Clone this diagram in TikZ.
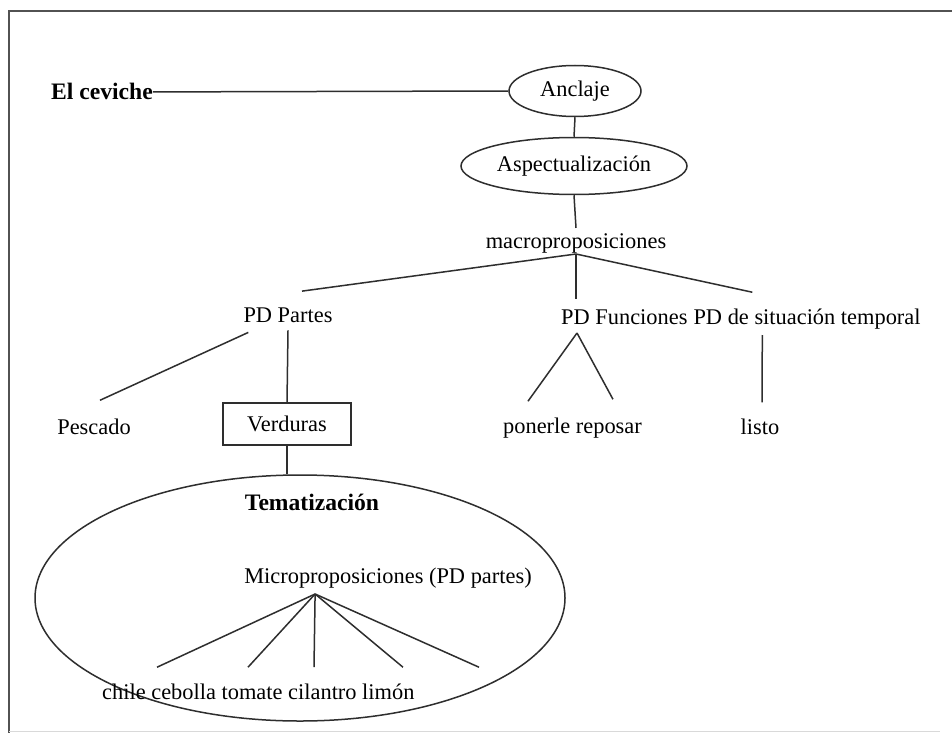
\documentclass[tikz,border=0pt]{standalone}
\usepackage{fontspec}
\setmainfont{Liberation Serif}
\usetikzlibrary{shapes.geometric,calc}
\begin{document}
\begin{tikzpicture}[x=1pt,y=-1pt,
  every node/.style={font=\fontsize{22.4}{26}\selectfont, inner sep=0pt, text=black},
  lbl/.style={anchor=base},
  heading/.style={anchor=base, font=\fontsize{23.6}{28}\selectfont\bfseries},
  link/.style={draw=black!82, line width=1.5pt},
  oval/.style={ellipse, draw=black!82, line width=1.5pt, inner sep=0pt},
  boxed/.style={rectangle, draw=black!82, line width=1.5pt},
  frameline/.style={draw=black!68, line width=2pt}]
\useasboundingbox (0,0) rectangle (952,733);
\fill[white] (0,0) rectangle (952,733);

% page frame
\draw[frameline] (952,11) -- (9,11) -- (9,733);
\draw[black!15, line width=1pt] (9,731) -- (940,731);

% top of the tree
\node[heading, anchor=base west] (cev) at (51,100) {El ceviche};
\node[oval, minimum width=132, minimum height=51] (anc) at (575,91) {Anclaje};
\node[oval, minimum width=226, minimum height=57] (asp) at (574,166) {Aspectualización};
\node[lbl] (macro) at (576,248) {macroproposiciones};
\coordinate (mp) at (576,254);

% second level
\node[lbl] (part) at (288,322) {PD Partes};
\node[lbl, anchor=base west] (fun) at (561,324) {PD Funciones};
\node[lbl, anchor=base west] (sit) at ($(fun.base east)+(5.6,0)$) {PD de situación temporal};

% leaves
\node[lbl] (pesc) at (94,434) {Pescado};
\node[boxed, minimum width=128, minimum height=42] (verd) at (287,424) {Verduras};
\node[lbl] (pon) at (572.5,433) {ponerle reposar};
\node[lbl] (listo) at (760,434) {listo};

% thematisation block
\node[oval, minimum width=530, minimum height=246] (big) at (300,598) {};
\node[heading] (tema) at (312,510) {Tematización};
\node[lbl] (micro) at (388,583) {Microproposiciones (PD partes)};
\node[lbl, anchor=base west] (chl) at (102,699) {chile cebolla tomate cilantro limón};

% connectors
\draw[link] (cev.east) -- (anc.west);
\draw[link] (anc.south) -- (asp.north);
\draw[link] (asp.south) -- ($(macro.north)+(0,-5)$);
\draw[link] (mp) -- ($(part.north)+(14,-16)$);
\draw[link] (mp) -- ($(mp |- fun.north)+(0,-10)$);
\draw[link] (mp) -- ($(sit.north west)+(59,-16)$);

\draw[link] ($(part.south west)+(5,10)$) -- ($(pesc.north)+(6,-18)$);
\draw[link] ($(part.south)+(0,8)$) -- (verd.north);
\draw[link] (verd.south) -- (verd.south |- big.north);

\coordinate (fa) at ($(fun.base west)+(16,9)$);
\draw[link] (fa) -- ($(pon.north west)+(25,-16)$);
\draw[link] (fa) -- ($(pon.north west)+(110,-18)$);
\draw[link] ($(sit.base west)+(69,11)$) -- ($(listo.north)+(2,-16)$);

\coordinate (ma) at ($(micro.base west)+(71,11)$);
\foreach \dx in {55,146,212,301,377}
  \draw[link] (ma) -- ($(chl.north west)+(\dx,-16)$);
\end{tikzpicture}
\end{document}
